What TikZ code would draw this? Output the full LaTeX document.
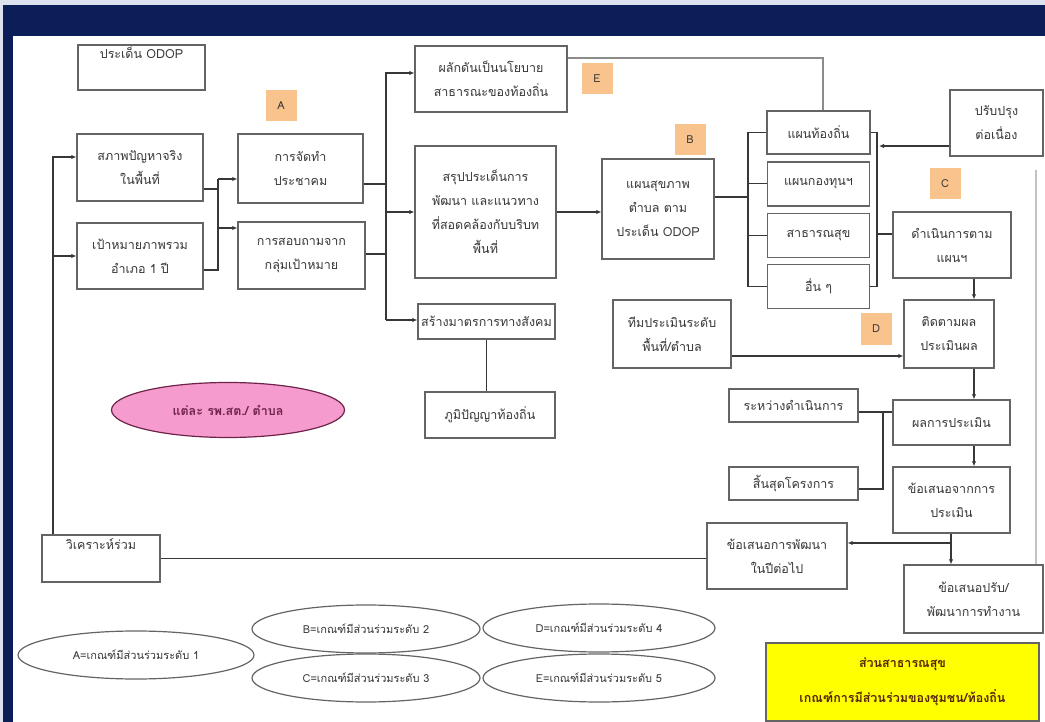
\documentclass[tikz,border=0pt]{standalone}
\usepackage{fontspec}
\setmainfont[Script=Thai]{Loma}
\usetikzlibrary{arrows.meta,positioning,calc,shapes.geometric}
\definecolor{NavyBand}{RGB}{12,30,88}
\definecolor{PaleStrip}{RGB}{220,227,238}
\definecolor{BoxLine}{RGB}{100,100,100}
\definecolor{InkGray}{RGB}{55,55,55}
\definecolor{TagOrange}{RGB}{249,195,142}
\definecolor{PinkFill}{RGB}{245,155,205}
\definecolor{PinkLine}{RGB}{110,35,75}
\definecolor{NoteYellow}{RGB}{255,255,0}
\definecolor{DarkBrown}{RGB}{85,35,10}
\definecolor{FaintGray}{RGB}{195,195,195}
\definecolor{LightLink}{RGB}{140,140,140}
\tikzset{
  sbox/.style    ={rectangle, draw=BoxLine, line width=1.4pt, fill=white, text=InkGray,
                   align=center, font=\fontsize{12.5}{24}\selectfont, inner sep=2pt},
  lettag/.style  ={rectangle, fill=TagOrange, text=InkGray, font=\fontsize{11}{13}\selectfont,
                   minimum width=31pt, minimum height=31pt, inner sep=0pt},
  crit/.style    ={ellipse, draw=BoxLine, line width=1.2pt, fill=white, text=InkGray,
                   font=\fontsize{11}{13}\selectfont, minimum width=230pt, minimum height=48pt, inner sep=0pt},
  pinkoval/.style={ellipse, draw=PinkLine, line width=1.2pt, fill=PinkFill, text=PinkLine,
                   font=\fontsize{12.5}{15}\selectfont\bfseries, minimum width=233pt, minimum height=55pt, inner sep=0pt},
  notebox/.style ={rectangle, draw=BoxLine, line width=1.4pt, fill=NoteYellow, text=DarkBrown, align=center,
                   font=\fontsize{12.5}{35}\selectfont\bfseries, minimum width=273pt, minimum height=78pt},
  conn/.style    ={draw=InkGray, line width=1.2pt},
  arr/.style     ={-{Latex[length=5pt,width=4.5pt]}, draw=InkGray, line width=1.2pt},
}
\begin{document}
\begin{tikzpicture}[x=1pt,y=-1pt]
  \useasboundingbox (0,0) rectangle (1045,722);
  \fill[PaleStrip] (0,0) rectangle (1045,722);
  \fill[NavyBand] (3,5) rectangle (1045,36);
  \fill[NavyBand] (3,5) rectangle (13,722);
  \fill[white] (13,36) rectangle (1045,722);

  % first columns
  \node[sbox,minimum width=127pt,text height=10pt,text depth=27pt,inner ysep=4pt] (odop) at (141.5,67.5) {ประเด็น ODOP};
  \node[sbox,minimum width=126pt,minimum height=67pt] (real) at (140,167.5) {สภาพปัญหาจริง\\ในพื้นที่};
  \node[sbox,minimum width=126pt,minimum height=66pt] (goal) at (140,256) {เป้าหมายภาพรวม\\อำเภอ 1 ปี};
  \node[lettag] (tagA) at (281,106) {A};
  \node[sbox,minimum width=125pt,minimum height=69pt] (forum) at (300.5,168.5) {การจัดทำ\\ประชาคม};
  \node[sbox,minimum width=127pt,minimum height=67pt] (survey) at (301.5,255.5) {การสอบถามจาก\\กลุ่มเป้าหมาย};
  \node[sbox,minimum width=152pt,minimum height=66pt] (policy) at (491,79) {ผลักดันเป็นนโยบาย\\สาธารณะของท้องถิ่น};
  \node[lettag] (tagE) at (597,79) {E};
  \node[sbox,minimum width=141pt,minimum height=132pt] (summary) at (485.5,212) {สรุปประเด็นการ\\พัฒนา และแนวทาง\\ที่สอดคล้องกับบริบท\\พื้นที่};
  \node[sbox,minimum width=137pt,minimum height=35pt] (measure) at (486.5,321.5) {สร้างมาตรการทางสังคม};
  \node[sbox,minimum width=130pt,minimum height=46pt] (wisdom) at (490,415) {ภูมิปัญญาท้องถิ่น};

  % plans
  \node[lettag] (tagB) at (690,140) {B};
  \node[sbox,minimum width=112pt,minimum height=100pt] (hplan) at (658,209) {แผนสุขภาพ\\ตำบล ตาม\\ประเด็น ODOP};
  \node[sbox,minimum width=103pt,minimum height=43pt] (plan1) at (818.5,132.5) {แผนท้องถิ่น};
  \node[sbox,minimum width=102pt,minimum height=44pt,below=6.5pt of plan1] (plan2) {แผนกองทุนฯ};
  \node[sbox,minimum width=102pt,minimum height=44pt,below=6pt of plan2] (plan3) {สาธารณสุข};
  \node[sbox,minimum width=102pt,minimum height=44pt,below=6pt of plan3] (plan4) {อื่น ๆ};
  \node[sbox,minimum width=93pt,minimum height=66pt] (improve) at (996.5,123) {ปรับปรุง\\ต่อเนื่อง};
  \node[lettag] (tagC) at (945,184) {C};
  \node[sbox,minimum width=118pt,minimum height=66pt] (act) at (952,245) {ดำเนินการตาม\\แผนฯ};

  % evaluation
  \node[sbox,minimum width=118pt,minimum height=68pt] (team) at (672,334) {ทีมประเมินระดับ\\พื้นที่/ตำบล};
  \node[lettag] (tagD) at (876,329) {D};
  \node[sbox,minimum width=90pt,minimum height=68pt] (follow) at (949,334) {ติดตามผล\\ประเมินผล};
  \node[sbox,minimum width=129pt,minimum height=33pt] (during) at (793.5,405.5) {ระหว่างดำเนินการ};
  \node[sbox,minimum width=129pt,minimum height=33pt] (finish) at (793.5,483.5) {สิ้นสุดโครงการ};
  \node[sbox,minimum width=117pt,minimum height=45pt] (result) at (951.5,422.5) {ผลการประเมิน};
  \node[sbox,minimum width=117pt,minimum height=66pt] (advice) at (951.5,500) {ข้อเสนอจากการ\\ประเมิน};
  \node[sbox,minimum width=140pt,minimum height=66pt] (nextyr) at (777,556) {ข้อเสนอการพัฒนา\\ในปีต่อไป};
  \node[sbox,minimum width=139pt,minimum height=68pt] (adjust) at (973.5,599) {ข้อเสนอปรับ/\\พัฒนาการทำงาน};
  \node[sbox,minimum width=118pt,text height=10pt,text depth=29pt,inner ysep=4pt] (joint) at (101,558.5) {วิเคราะห์ร่วม};
  \node[pinkoval] (each) at (228,410) {แต่ละ รพ.สต./ ตำบล};

  % legend
  \node[crit,minimum width=236pt] (critA) at (136,655) {A=เกณฑ์มีส่วนร่วมระดับ 1};
  \node[crit,minimum width=228pt] (critB) at (366,629) {B=เกณฑ์มีส่วนร่วมระดับ 2};
  \node[crit,minimum width=228pt] (critC) at (366,678) {C=เกณฑ์มีส่วนร่วมระดับ 3};
  \node[crit,minimum width=232pt] (critD) at (599,628) {D=เกณฑ์มีส่วนร่วมระดับ 4};
  \node[crit,minimum width=232pt] (critE) at (599,678) {E=เกณฑ์มีส่วนร่วมระดับ 5};
  \node[notebox] (note) at (902.5,682) {ส่วนสาธารณสุข\\เกณฑ์การมีส่วนร่วมของชุมชน/ท้องถิ่น};

  % connectors
  \coordinate (lb) at (53,157);
  \draw[arr] (lb|-joint.north) -- (lb) -- (real.west|-lb);
  \draw[arr] (lb|-goal.west) -- (goal.west);
  \draw[conn] (joint.east) -- (joint.east-|nextyr.west);

  \coordinate (jr) at (218,189);
  \coordinate (jg) at (218,270);
  \coordinate (ja) at (218,179);
  \coordinate (jb) at (218,228);
  \draw[conn] (real.east|-jr) -- (jr);
  \draw[conn] (goal.east|-jg) -- (jg) -- (ja);
  \draw[arr] (ja) -- (forum.west|-ja);
  \draw[arr] (jb) -- (survey.west|-jb);

  \coordinate (kt) at (386,73);
  \coordinate (kb) at (386,320);
  \coordinate (kf) at (386,184);
  \coordinate (ks) at (386,254);
  \draw[conn] (forum.east|-kf) -- (kf);
  \draw[conn] (survey.east|-ks) -- (ks);
  \draw[arr] (kb) -- (kt) -- (policy.west|-kt);
  \draw[arr] (kb|-summary.west) -- (summary.west);
  \draw[arr] (kb) -- (measure.west|-kb);
  \draw[conn] (measure.south) -- (measure.south|-wisdom.north);
  \draw[arr] (summary.east) -- (summary.east-|hplan.west);

  \coordinate (qt) at (823,58);
  \draw[conn,draw=LightLink] (policy.east|-qt) -- (qt) -- (qt|-plan1.north);

  \coordinate (pb) at (748,197);
  \draw[conn] (hplan.east|-pb) -- (pb);
  \draw[conn] (plan1.west) -| (pb) |- (plan4.west);
  \draw[conn] (plan2.west) -- (plan2.west-|pb);
  \draw[conn] (plan3.west) -- (plan3.west-|pb);

  \coordinate (rb) at (877,234);
  \coordinate (ri) at (879,146);
  \draw[conn] (plan1.east) -| (rb) |- (plan4.east);
  \draw[conn] (rb) -- (act.west|-rb);
  \draw[arr] (improve.west|-ri) -- (ri);

  \coordinate (cx) at (974,300);
  \draw[arr] (act.south-|cx) -- (follow.north-|cx);
  \draw[arr] (follow.south-|cx) -- (result.north-|cx);
  \draw[arr] (result.south-|cx) -- (advice.north-|cx);

  \coordinate (tm) at (800,356);
  \draw[arr] (team.east|-tm) -- (follow.west|-tm);

  \coordinate (uj) at (883,412);
  \coordinate (ul) at (883,489);
  \draw[conn] (during.east|-uj) -- (result.west|-uj);
  \draw[conn] (uj) -- (ul) -- (finish.east|-ul);

  \coordinate (vj) at (951,543);
  \draw[arr] (advice.south-|vj) -- (adjust.north-|vj);
  \draw[arr] (vj) -- (nextyr.east|-vj);

  \coordinate (gt) at (1036,170);
  \draw[conn,draw=FaintGray] (gt) -- (gt|-adjust.north);
\end{tikzpicture}
\end{document}
